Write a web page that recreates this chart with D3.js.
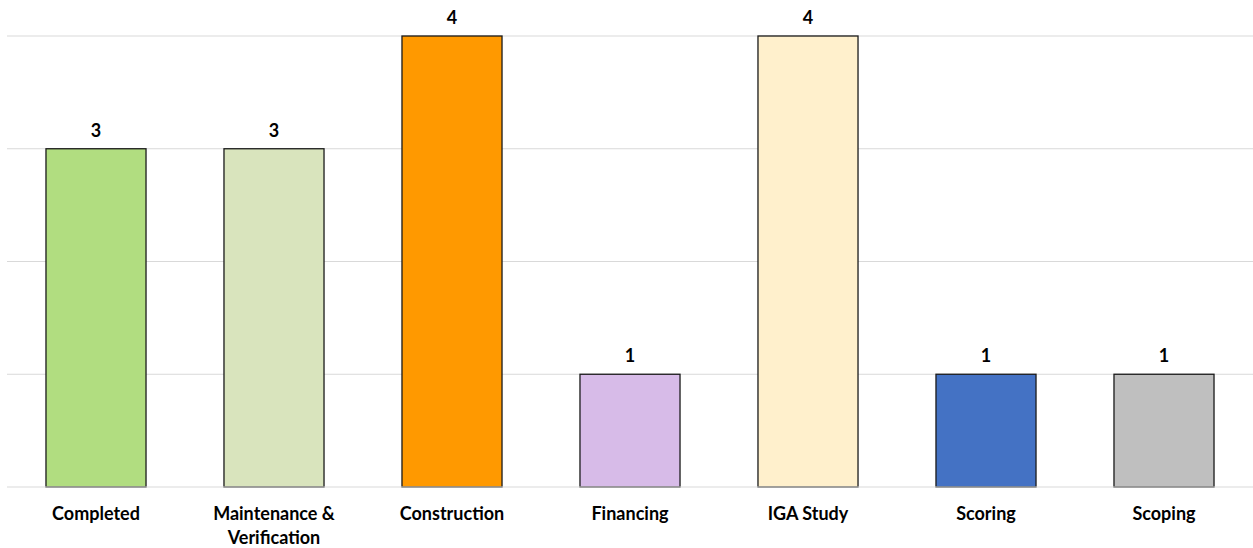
<!DOCTYPE html>
<html>
<head>
<meta charset="utf-8">
<script src="https://cdn.jsdelivr.net/npm/d3@7"></script>
<style>
  body { margin: 0; background: #fff; }
  text { font-family: Lato, "Open Sans", sans-serif; font-weight: bold; fill: #000; }
</style>
</head>
<body>
<svg id="chart"></svg>
<script>
const categories = ["Completed", "Maintenance & Verification", "Construction", "Financing", "IGA Study", "Scoring", "Scoping"];
const counts = [3, 3, 4, 1, 4, 1, 1];
const barColors = ["#b1dd80", "#d9e4bd", "#ff9900", "#d7bbe8", "#fff0cc", "#4472c4", "#bfbfbf"];
const gridTicks = [1, 2, 3, 4];

const width = 1253;
const height = 548;

let svg = d3.select("#chart").attr("width", width).attr("height", height);

let x = d3.scaleBand()
  .domain(categories)
  .range([7, 1253])
  .paddingInner(0.438)
  .paddingOuter(0.219);

let y = d3.scaleLinear().domain([0, 4]).range([487, 36]);

// gridlines
svg.append("g")
  .selectAll("line")
  .data(gridTicks)
  .enter()
  .append("line")
  .attr("x1", 7)
  .attr("x2", 1253)
  .attr("y1", d => y(d))
  .attr("y2", d => y(d))
  .attr("stroke", "#d9d9d9")
  .attr("stroke-width", 1);

// bars
svg.append("g")
  .selectAll("rect")
  .data(categories)
  .enter()
  .append("rect")
  .attr("x", d => x(d))
  .attr("y", (d, i) => y(counts[i]))
  .attr("width", x.bandwidth())
  .attr("height", (d, i) => y(0) - y(counts[i]))
  .attr("fill", (d, i) => barColors[i])
  .attr("stroke", "#1a1a1a")
  .attr("stroke-width", 1.3);

// baseline
svg.append("line")
  .attr("x1", 7)
  .attr("x2", 1253)
  .attr("y1", y(0))
  .attr("y2", y(0))
  .attr("stroke", "#d9d9d9")
  .attr("stroke-width", 1);

// value labels
svg.append("g")
  .selectAll("text")
  .data(categories)
  .enter()
  .append("text")
  .attr("x", d => x(d) + x.bandwidth() / 2)
  .attr("y", (d, i) => y(counts[i]) - 12)
  .attr("text-anchor", "middle")
  .attr("font-size", 18)
  .text((d, i) => counts[i]);

// category labels, wrapped like the original
const labelLines = {
  "Maintenance & Verification": ["Maintenance &", "Verification"]
};

let labels = svg.append("g")
  .selectAll("text")
  .data(categories)
  .enter()
  .append("text")
  .attr("x", d => x(d) + x.bandwidth() / 2)
  .attr("y", 520)
  .attr("text-anchor", "middle")
  .attr("font-size", 18);

labels.each(function (d) {
  let lines = labelLines[d] || [d];
  let t = d3.select(this);
  lines.forEach((line, k) => {
    t.append("tspan")
      .attr("x", x(d) + x.bandwidth() / 2)
      .attr("dy", k === 0 ? 0 : 24)
      .text(line);
  });
});
</script>
</body>
</html>
